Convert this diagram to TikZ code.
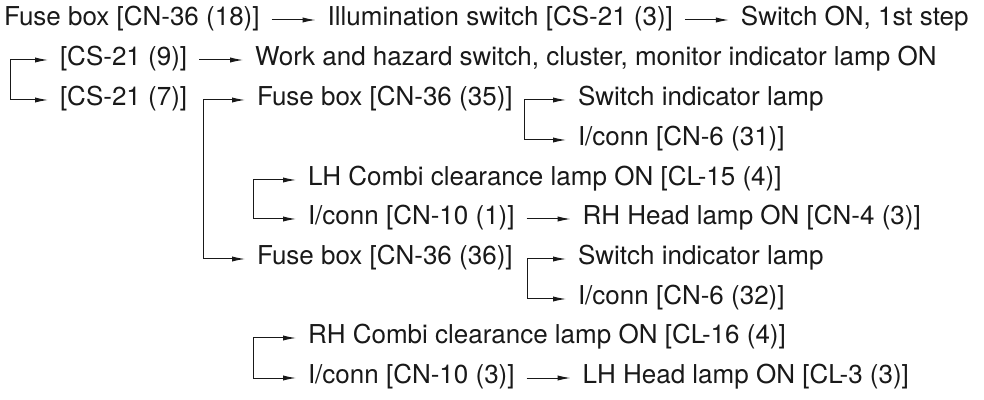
\documentclass[tikz,border=0pt]{standalone}
\usepackage{fontspec}
\setmainfont{TeX Gyre Heros}
\usetikzlibrary{arrows.meta,positioning}

\begin{document}
\begin{tikzpicture}[x=0.5pt, y=-0.5pt, node distance=22pt, font=\fontsize{13}{16}\selectfont]
  % Define styles
  \tikzstyle{item} = [inner sep=0pt, outer xsep=6pt, text height=0.75em, text depth=0.2em, text=black!90, anchor=west]
  \tikzstyle{line} = [draw, black!90, line width=0.5pt, -{Latex[length=6.5pt, width=2.6pt]}]

  \useasboundingbox (0,0) rectangle (984,400);

  % Place nodes
  \node [item] (fuse18) at (-8,20) {Fuse box [CN-36 (18)]};
  \node [item, right=of fuse18] (illum) {Illumination switch [CS-21 (3)]};
  \node [item, right=of illum] (step1) {Switch ON, 1st step};
  \node [item] (cs9) at (48,60) {[CS-21 (9)]};
  \node [item, right=of cs9] (work) {Work and hazard switch, cluster, monitor indicator lamp ON};
  \node [item] (cs7) at (48,100) {[CS-21 (7)]};
  \node [item] (fuse35) at (245,100) {Fuse box [CN-36 (35)]};
  \node [item] (lamp35) at (566,100) {Switch indicator lamp};
  \node [item] (cn631) at (566,140) {I/conn [CN-6 (31)]};
  \node [item] (lhcombi) at (296,180) {LH Combi clearance lamp ON [CL-15 (4)]};
  \node [item] (cn101) at (296,219) {I/conn [CN-10 (1)]};
  \node [item, right=of cn101] (rhhead) {RH Head lamp ON [CN-4 (3)]};
  \node [item] (fuse36) at (245,259) {Fuse box [CN-36 (36)]};
  \node [item] (lamp36) at (566,259) {Switch indicator lamp};
  \node [item] (cn632) at (566,299) {I/conn [CN-6 (32)]};
  \node [item] (rhcombi) at (296,338) {RH Combi clearance lamp ON [CL-16 (4)]};
  \node [item] (cn103) at (296,378) {I/conn [CN-10 (3)]};
  \node [item, right=of cn103] (lhhead) {LH Head lamp ON [CL-3 (3)]};

  % Branch points
  \coordinate (fork1) at (10,60);
  \coordinate (fork2) at (203,100);
  \coordinate (fork3) at (524,100);
  \coordinate (fork4) at (253,180);
  \coordinate (fork5) at (527,259);
  \coordinate (fork6) at (253,338);

  % Draw edges
  \path [line] (fuse18) -- (illum);
  \path [line] (illum) -- (step1);
  \path [line] (cs9) -- (work);
  \path [line] (cn101) -- (rhhead);
  \path [line] (cn103) -- (lhhead);
  \path [line] (fork1) -- (cs9);
  \path [line] (fork1) |- (cs7);
  \path [line] (fork2) -- (fuse35);
  \path [line] (fork2) |- (fuse36);
  \path [line] (fork3) -- (lamp35);
  \path [line] (fork3) |- (cn631);
  \path [line] (fork4) -- (lhcombi);
  \path [line] (fork4) |- (cn101);
  \path [line] (fork5) -- (lamp36);
  \path [line] (fork5) |- (cn632);
  \path [line] (fork6) -- (rhcombi);
  \path [line] (fork6) |- (cn103);
\end{tikzpicture}
\end{document}
